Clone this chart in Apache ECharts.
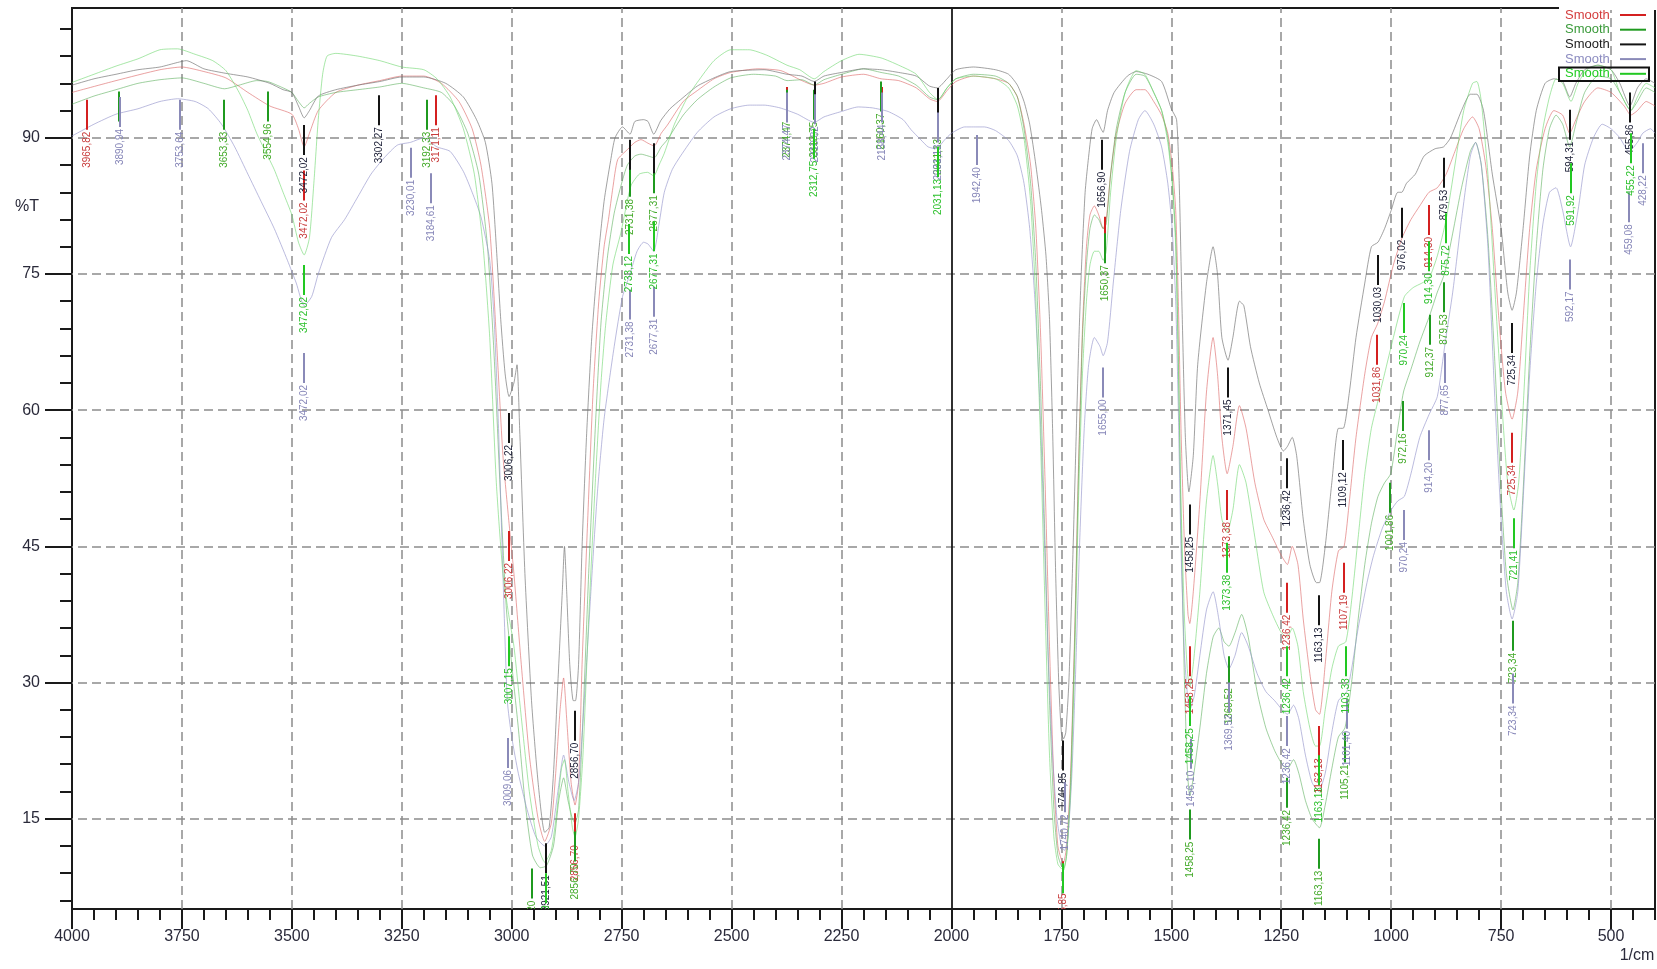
<!DOCTYPE html>
<html>
<head>
<meta charset="utf-8">
<script src="https://cdn.jsdelivr.net/npm/echarts@6/dist/echarts.min.js"></script>
<style>
html, body { margin: 0; padding: 0; background: #fff; }
#chart { width: 1657px; height: 969px; }
</style>
</head>
<body>
<div id="chart"></div>
<script>
// spectra, [wavenumber 1/cm, %T]
const redCurve = [[4000,95],[3900,96.3],[3800,97.5],[3750,97.8],[3700,97.3],[3650,96.6],[3600,95],[3550,93.5],[3500,92.6],[3485,91],[3472,89],[3460,90.5],[3440,93],[3400,95],[3350,95.8],[3300,96.3],[3250,96.8],[3200,96.8],[3160,96],[3120,94],[3090,91],[3070,87],[3050,80],[3035,68],[3020,55],[3006,47.5],[2995,42],[2980,33],[2960,22],[2940,15],[2925,12.5],[2910,14.5],[2900,20],[2890,27],[2882,30.5],[2875,26],[2865,19],[2856,16.5],[2848,19],[2840,32],[2828,47],[2815,62],[2802,72],[2790,78],[2780,81],[2770,84.5],[2759,87.6],[2737,88.7],[2720,89.5],[2706,89.8],[2690,89.4],[2676,89.1],[2660,90.5],[2646,91.4],[2610,94],[2578,95.2],[2540,96.5],[2502,97.2],[2440,97.6],[2388,97.4],[2340,96.3],[2312,95.8],[2290,96],[2250,96.7],[2200,97],[2160,96.5],[2120,96.3],[2080,95.5],[2050,94.3],[2032,94],[2010,95.2],[1990,96.2],[1950,96.8],[1900,96.5],[1870,96],[1850,94.5],[1835,91.5],[1820,87],[1808,80],[1797,68],[1787,52],[1777,34],[1767,19],[1758,12],[1750,10.5],[1745,10.2],[1738,12],[1729,20],[1720,35],[1711,54],[1702,69],[1693,78],[1685,81.5],[1675,82.5],[1665,81.5],[1655,80],[1648,81],[1638,86],[1625,90.5],[1605,93.8],[1580,95.3],[1560,95.3],[1540,94],[1522,92.5],[1508,90.5],[1498,87],[1490,82],[1484,72],[1478,58],[1470,45],[1462,37.5],[1458,36.5],[1450,40],[1435,50],[1420,62],[1405,68],[1395,64],[1385,57],[1373,53],[1360,56],[1345,60.5],[1330,58],[1310,52],[1290,48],[1270,46],[1250,44],[1236,43],[1225,45],[1212,43],[1200,37],[1185,31],[1172,27],[1163,26.5],[1150,32],[1135,40],[1120,44.5],[1107,45],[1095,50],[1080,57],[1060,64],[1045,68],[1031,69.5],[1015,72],[995,76],[975,79],[955,81],[935,82.5],[914,84],[895,84.5],[875,86],[855,88.5],[835,91],[815,92.3],[800,91],[785,87],[770,80],[755,70],[740,62],[725,59],[712,62],[700,70],[685,80],[670,86.5],[650,91],[630,93],[610,92.5],[594,90.5],[580,92],[560,94],[530,95.5],[500,95],[470,93.5],[455,92.5],[440,93],[420,94],[400,93.5]];

const greenCurve = [[4000,93.7],[3950,94.6],[3900,95.3],[3850,96],[3800,96.4],[3750,96.6],[3700,96],[3653,95.4],[3620,95.8],[3580,96.3],[3555,96.2],[3520,95.5],[3500,95],[3485,94],[3472,93.3],[3460,93.8],[3440,94.5],[3400,95],[3350,95.3],[3300,95.6],[3250,96],[3200,95.5],[3160,95],[3130,93.5],[3100,90.5],[3075,86],[3055,78],[3040,66],[3025,50],[3012,38],[3000,32],[2985,25],[2970,17],[2953,11],[2935,9.6],[2921,9.8],[2905,12],[2893,17],[2882,19.5],[2872,17],[2862,15],[2856,14.5],[2848,16],[2838,26],[2825,42],[2810,58],[2797,69.6],[2782,77],[2767,81.7],[2750,85],[2737,87],[2720,88],[2706,88.2],[2690,88],[2676,87.8],[2660,89],[2646,89.8],[2610,92.5],[2578,94.2],[2540,95.6],[2502,96.6],[2450,97],[2400,96.8],[2374,96.3],[2340,96.4],[2312,95.8],[2290,96.4],[2250,97],[2200,97.6],[2160,97.2],[2120,96.8],[2080,95.8],[2050,94.5],[2031,94.2],[2010,95.5],[1990,96.5],[1950,97],[1900,96.8],[1870,96],[1850,94.5],[1835,91],[1820,85],[1808,76],[1797,62],[1787,45],[1777,28],[1767,16],[1758,11],[1750,9.8],[1745,9.5],[1738,11],[1729,19],[1720,34],[1711,53],[1702,68],[1693,76],[1685,80],[1675,81.5],[1665,81],[1655,80],[1648,80.5],[1638,86],[1625,91],[1605,95],[1580,97],[1560,96.8],[1540,95],[1522,93],[1508,90],[1498,85.5],[1490,79],[1484,66],[1478,48],[1470,30],[1463,20],[1458,17.5],[1450,19.5],[1435,25],[1420,31],[1405,35],[1392,36],[1380,34.5],[1369,34],[1355,35.5],[1340,37.5],[1325,35],[1305,29],[1285,25],[1265,22.5],[1248,21],[1236,20.5],[1222,21.5],[1210,20],[1195,17],[1180,15],[1163,14],[1150,16.5],[1135,20.5],[1120,24],[1105,25],[1090,30],[1075,37],[1060,43],[1045,47.5],[1030,50.5],[1015,52],[1001,53],[985,58],[972,62],[955,64.5],[935,67.5],[912,70.5],[895,73],[879,75],[860,79.5],[840,84.5],[820,88.5],[808,89.5],[795,87],[780,79],[765,66],[750,51],[738,42],[723,38],[712,41],[700,51],[685,66],[670,78],[655,86.5],[640,91],[625,92.5],[610,91.5],[594,89],[580,91.5],[560,95],[530,96.8],[500,96.5],[480,95],[455,93],[440,94],[420,95.5],[400,95]];

const blackCurve = [[4000,95.8],[3950,96.5],[3900,97],[3850,97.5],[3800,97.8],[3760,98.3],[3740,98.5],[3700,97.6],[3650,97.1],[3600,96.7],[3550,96],[3520,95.3],[3500,95],[3485,93.5],[3472,92.2],[3460,93],[3440,94.6],[3400,95.3],[3350,95.8],[3300,96.2],[3250,96.7],[3200,96.7],[3150,96],[3110,94.5],[3080,92],[3060,89.5],[3045,85],[3035,78],[3025,70],[3015,64],[3006,61.5],[2995,63],[2988,65],[2982,58],[2970,42],[2955,28],[2940,19],[2925,13.5],[2915,14],[2905,20],[2895,30],[2885,40],[2880,45],[2875,40],[2868,32],[2860,28],[2855,28],[2848,32],[2840,45],[2830,57],[2818,68],[2805,76],[2790,83],[2775,87.5],[2765,90],[2748,91.2],[2731,90.4],[2720,91.8],[2700,92],[2690,91.8],[2677,90.4],[2661,91.9],[2640,93.2],[2616,94.2],[2578,95.7],[2540,96.6],[2502,97.3],[2426,97.5],[2374,97],[2340,96.8],[2312,96.2],[2290,96.8],[2250,97.2],[2200,97.6],[2160,97.5],[2120,97.2],[2080,96.8],[2050,95.7],[2032,95.5],[2010,96.5],[1990,97.5],[1950,97.8],[1900,97.5],[1870,97],[1850,95.8],[1835,94],[1822,91.5],[1808,87],[1795,82],[1785,77],[1777,70],[1770,58],[1763,42],[1756,30],[1750,24.5],[1745,23.8],[1740,24.5],[1733,30],[1725,42],[1717,56],[1710,68],[1704,76],[1696,84],[1689,87.5],[1680,91],[1670,92],[1660,91],[1655,90.6],[1645,93],[1630,95],[1600,96.8],[1580,97.3],[1553,97],[1522,96.2],[1500,93.2],[1488,92],[1482,85],[1475,70],[1468,57],[1460,51],[1450,55],[1440,65],[1420,74],[1405,78],[1395,75],[1385,68],[1371,65.5],[1360,68],[1345,72],[1335,71.5],[1320,67],[1300,63],[1280,60],[1260,57],[1245,55.5],[1236,56],[1225,57],[1215,55],[1200,48],[1185,43],[1170,41],[1163,41],[1150,45],[1135,52],[1120,58],[1109,58],[1095,62],[1080,68],[1060,74],[1045,78],[1030,78.5],[1015,80],[1000,82],[985,84],[976,84],[965,85],[945,86],[925,88],[900,88.8],[881,89],[865,90],[840,93],[820,94.8],[805,94.8],[790,93],[770,86],[750,80],[735,73],[725,71],[715,73],[700,80],[685,88],[670,93],[650,96],[630,96.5],[610,96.2],[594,94.5],[580,96],[560,97.5],[530,98],[500,97.5],[480,96],[457,93.5],[440,95.5],[420,96.5],[400,96]];

const lavenderCurve = [[4000,90.2],[3950,91.5],[3900,92.6],[3850,93.2],[3800,94],[3760,94.3],[3720,94],[3690,93.2],[3660,91.5],[3630,89],[3600,86],[3570,83],[3540,80],[3510,76.5],[3490,74],[3472,71.5],[3455,72.5],[3440,75],[3410,79],[3380,81],[3350,83.5],[3320,86],[3290,87.8],[3260,89.2],[3230,89.5],[3200,90],[3170,89],[3140,88.5],[3110,86.3],[3090,84],[3070,81.3],[3050,76.5],[3040,70],[3030,58],[3020,42],[3010,28],[3000,24],[2985,20],[2965,16],[2945,13],[2925,12],[2910,13],[2895,18],[2882,22],[2870,19],[2858,17],[2848,19],[2835,28],[2820,40],[2805,51],[2790,59],[2767,67],[2748,72.5],[2731,75],[2715,77.5],[2700,78.5],[2690,78.3],[2677,77.5],[2665,80.5],[2653,84],[2635,86.5],[2616,88],[2578,90.6],[2540,92.3],[2502,93.2],[2460,93.6],[2426,93.6],[2390,93.3],[2350,92.6],[2312,91.7],[2290,92.3],[2250,92.9],[2212,93.4],[2180,93.3],[2144,92.9],[2110,92],[2092,90.9],[2070,89.8],[2053,89],[2035,88.8],[2015,89.8],[2000,90.5],[1970,91.2],[1950,91.2],[1925,91.2],[1900,90.8],[1870,89.7],[1850,88],[1835,85],[1822,80],[1810,72],[1800,62],[1790,48],[1780,33],[1770,22],[1760,15],[1750,12],[1743,11.5],[1735,13],[1726,20],[1717,32],[1708,46],[1698,58],[1688,65],[1675,68],[1662,67],[1655,66],[1645,67.5],[1632,74],[1615,82],[1595,88.5],[1575,92],[1560,93],[1540,91.5],[1522,89],[1508,85],[1498,80],[1490,72],[1484,60],[1478,45],[1470,33],[1463,28.5],[1458,27],[1448,28.5],[1435,33],[1420,38],[1405,40],[1392,37],[1380,33],[1369,31.5],[1355,33],[1340,35.5],[1325,34],[1305,31],[1285,29],[1265,28],[1248,27],[1236,26.5],[1222,27.5],[1210,26],[1195,22],[1180,19],[1165,18],[1150,20],[1135,24.5],[1120,28],[1101,29],[1090,31.5],[1075,36],[1055,41],[1040,44],[1020,47],[1000,49],[985,50],[970,50.5],[955,53],[935,57],[914,59.5],[895,61.5],[877,67.5],[860,73],[840,81],[820,88],[808,89.5],[795,87],[780,78],[765,62],[750,48],[738,40],[725,37],[712,40],[700,50],[685,64],[670,74],[655,80.5],[640,84],[625,84.5],[610,82],[592,78],[575,82],[560,87],[540,90],[520,91.5],[500,91],[480,90],[459,88.5],[440,89.5],[428,90.5],[410,91],[400,90.5]];

const brightCurve = [[4000,96.1],[3950,97],[3900,97.9],[3850,98.7],[3800,99.7],[3760,99.8],[3720,99.2],[3680,98.5],[3650,97.4],[3620,95],[3600,93],[3580,90.5],[3560,88.5],[3540,86.5],[3520,84],[3500,81.5],[3485,78.5],[3472,77.1],[3460,79],[3450,85],[3440,92],[3430,97],[3420,99],[3400,99.3],[3350,99],[3300,98.5],[3250,97.8],[3200,97.5],[3170,96.5],[3140,94.5],[3110,91],[3085,86],[3065,78],[3050,68],[3035,52],[3020,42],[3007,37.5],[2995,34],[2980,27],[2960,18],[2940,12],[2925,10.2],[2910,11.5],[2897,16],[2887,20.5],[2880,21.5],[2872,18],[2862,14],[2856,13],[2848,15],[2838,22],[2825,37],[2810,52],[2797,63],[2786,69.6],[2770,76],[2752,79.5],[2729,84.7],[2710,86],[2691,86.2],[2677,85.8],[2665,87],[2653,88.3],[2630,91.5],[2600,94.5],[2578,96.1],[2540,98.5],[2502,99.7],[2460,99.7],[2420,99.1],[2374,98],[2345,97.5],[2312,96.5],[2290,97.3],[2250,98.5],[2210,99.2],[2160,98.8],[2120,98],[2080,97],[2050,95],[2030,94.2],[2010,95.5],[1990,96.5],[1950,96.8],[1900,96.5],[1870,95.5],[1850,93.5],[1835,90],[1820,83],[1808,72],[1797,56],[1787,38],[1777,22],[1767,13],[1758,10],[1750,9.5],[1745,9.3],[1738,11],[1729,18],[1720,32],[1711,50],[1702,64],[1693,72],[1685,76],[1675,77.5],[1665,77.5],[1655,76.5],[1648,77.5],[1638,84],[1625,90],[1605,95],[1580,97.4],[1560,97],[1540,95],[1522,93],[1508,89.5],[1498,85],[1490,78],[1484,65],[1478,50],[1470,37],[1463,31],[1458,29.5],[1450,32],[1435,40],[1420,50],[1405,55],[1395,52],[1385,48],[1373,46.5],[1360,49],[1345,54],[1330,52],[1310,46],[1290,40],[1270,37.5],[1250,35.5],[1236,35],[1225,36],[1212,34],[1200,29],[1185,25],[1172,23],[1163,23],[1150,27],[1135,31.5],[1120,34],[1103,34.5],[1090,39],[1075,46],[1060,53],[1045,58],[1030,61],[1015,64],[995,68],[970,72.5],[950,73.5],[930,74],[914,74.5],[895,77],[875,81],[855,87],[835,93],[815,96],[805,96.2],[795,94],[780,86],[765,74],[750,62],[735,52],[721,49],[710,52],[698,62],[685,75],[670,85],[655,91],[640,94.5],[625,96.5],[610,96],[591,94],[575,96],[555,97.5],[530,98],[500,97.5],[480,95],[455,93],[440,94.5],[420,96],[400,95.5]];

// peak picks, [wavenumber, top of tick in %T, label]
const redPeaks = [[3965.82,94.2,'3965,82'],[3472.02,86.4,'3472,02'],[3171.11,94.7,'3171,11'],[3006.22,46.7,'3006,22'],[2856.70,15.6,'2856,70'],[2374.47,95.6,''],[2158.44,95.6,''],[1650.37,81.3,''],[1745.85,10.3,'1745,85'],[1458.25,34.0,'1458,25'],[1373.38,51.2,'1373,38'],[1236.42,41.0,'1236,42'],[1163.13,25.2,'1163,13'],[1107.19,43.2,'1107,19'],[1031.86,68.3,'1031,86'],[914.30,82.6,'914,30'],[725.34,57.5,'725,34']];

const greenPeaks = [[3892.58,95.1,''],[3653.33,94.2,'3653,33'],[3554.96,95.1,'3554,96'],[3192.33,94.2,'3192,33'],[2953.20,9.5,'2953,20'],[2856.70,13.6,'2856,70'],[2731.38,86.8,'2731,38'],[2677.31,87.2,'2677,31'],[2374.47,95.3,'2374,47'],[2312.75,95.3,'2312,75'],[2160.37,96.2,'2160,37'],[2031.13,93.4,'2031,13'],[1650.37,79.5,'1650,37'],[1458.25,16.0,'1458,25'],[1369.52,32.9,'1369,52'],[1236.42,19.5,'1236,42'],[1163.13,12.8,'1163,13'],[1105.21,24.5,'1105,21'],[1001.86,52.0,'1001,86'],[972.16,61.0,'972,16'],[912.37,70.5,'912,37'],[879.53,74.1,'879,53'],[723.34,36.8,'723,34']];

const blackPeaks = [[3472.02,91.4,'3472,02'],[3302.27,94.7,'3302,27'],[3006.22,59.7,'3006,22'],[2921.51,12.3,'2921,51'],[2856.70,26.9,'2856,70'],[2731.38,89.8,''],[2677.31,89.4,''],[2310.82,96.2,''],[2031.13,95.5,''],[1746.85,23.6,'1746,85'],[1656.90,89.8,'1656,90'],[1458.25,49.6,'1458,25'],[1371.45,64.7,'1371,45'],[1236.42,54.7,'1236,42'],[1163.13,39.6,'1163,13'],[1109.12,56.7,'1109,12'],[1030.03,77.1,'1030,03'],[976.02,82.3,'976,02'],[879.53,87.8,'879,53'],[725.34,69.6,'725,34'],[594.31,93.1,'594,31'],[455.86,95.0,'455,86']];

const lavenderPeaks = [[3890.94,94.5,'3890,94'],[3753.64,94.2,'3753,64'],[3472.02,66.3,'3472,02'],[3230.01,88.9,'3230,01'],[3184.61,86.1,'3184,61'],[3009.06,23.9,'3009,06'],[2731.38,73.3,'2731,38'],[2677.31,73.6,'2677,31'],[2374.47,95.0,'2374,47'],[2310.82,94.8,'2310,82'],[2158.44,95.0,'2158,44'],[2031.13,92.8,'2031,13'],[1942.40,90.3,'1942,40'],[1740.72,19.0,'1740,72'],[1655.00,64.7,'1655,00'],[1456.10,23.8,'1456,10'],[1369.52,30.0,'1369,52'],[1236.42,26.3,'1236,42'],[1101.40,28.2,'1101,40'],[970.24,49.0,'970,24'],[914.20,57.8,'914,20'],[877.65,66.3,'877,65'],[723.34,31.0,'723,34'],[592.17,76.6,'592,17'],[459.08,84.0,'459,08'],[428.22,89.4,'428,22']];

const brightPeaks = [[3472.02,76.0,'3472,02'],[3007.15,35.1,'3007,15'],[2921.59,9.0,'2921,59'],[2733.12,80.5,'2733,12'],[2677.31,80.8,'2677,31'],[2312.75,91.0,'2312,75'],[2031.13,89.0,'2031,13'],[1745.85,10.1,''],[1458.25,28.5,'1458,25'],[1373.38,45.4,'1373,38'],[1236.42,34.0,'1236,42'],[1163.13,22.0,'1163,13'],[1103.33,34.0,'1103,33'],[970.24,71.8,'970,24'],[914.30,78.6,'914,30'],[875.72,81.7,'875,72'],[721.41,48.1,'721,41'],[591.92,87.2,'591,92'],[455.22,90.5,'455,22']];

const legendNames = ['Smooth', 'Smooth', 'Smooth', 'Smooth', 'Smooth'];
const xLabels = [4000, 3750, 3500, 3250, 3000, 2750, 2500, 2250, 2000, 1750, 1500, 1250, 1000, 750, 500];
const yLabels = [15, 30, 45, 60, 75, 90];
const yMinorTicks = [6, 9, 12, 15, 18, 21, 24, 27, 30, 33, 36, 39, 42, 45, 48, 51, 54, 57, 60, 63, 66, 69, 72, 75, 78, 81, 84, 87, 90, 93, 96, 99, 102];

const FONT = '"Liberation Sans", Arial, sans-serif';
const X_MIN = 400, X_MAX = 4000, Y_MIN = 5.05, Y_MAX = 104.3;

// curve colour, tick colour, label colour
const styles = [
	{ curve: 'rgba(220,100,100,0.6)', tick: '#d42020', text: '#c83c3c', legend: '#d43c3c' },
	{ curve: 'rgba(80,170,80,0.55)', tick: '#1f9a1f', text: '#44aa2a', legend: '#3a9a3a' },
	{ curve: 'rgba(110,110,110,0.65)', tick: '#141414', text: '#20233a', legend: '#202020' },
	{ curve: 'rgba(150,150,205,0.65)', tick: '#8a8ab8', text: '#8686b8', legend: '#8c8cc0' },
	{ curve: 'rgba(110,215,110,0.6)', tick: '#22c822', text: '#2cc02c', legend: '#22cc22' }
];

const curves = [redCurve, greenCurve, blackCurve, lavenderCurve, brightCurve];
const peaks = [redPeaks, greenPeaks, blackPeaks, lavenderPeaks, brightPeaks];

const peakSeries = (list, st) => ({
	type: 'custom',
	silent: true,
	clip: true,
	z: 6,
	data: list.map((p) => [p[0], p[1]]),
	renderItem: (params, api) => {
		const top = api.coord([api.value(0), api.value(1)]);
		const x = Math.round(top[0]);
		const y2 = top[1] + 30;
		return {
			type: 'group',
			children: [
				{ type: 'line', shape: { x1: x, y1: top[1], x2: x, y2 }, style: { stroke: st.tick, lineWidth: 2 } },
				{
					type: 'text',
					x,
					y: y2 + 2,
					rotation: Math.PI / 2,
					style: { text: list[params.dataIndex][2], fill: st.text, font: `10px ${FONT}`, align: 'right', verticalAlign: 'middle' }
				}
			]
		};
	}
});

const gridMarks = [
	...yLabels.map((v) => ({ yAxis: v })),
	...xLabels.filter((v) => v !== 4000 && v !== 2000).map((v) => ({ xAxis: v })),
	{ xAxis: 2000, lineStyle: { color: '#1a1a1a', type: 'solid', width: 1.8 } }
];

const series = [];
curves.forEach((c, i) => {
	series.push({
		type: 'line',
		name: `Smooth ${i + 1}`,
		data: c,
		showSymbol: false,
		smooth: 0.2,
		silent: true,
		z: 3,
		lineStyle: { color: styles[i].curve, width: 1 },
		markLine: i === 0 ? {
			silent: true,
			symbol: ['none', 'none'],
			label: { show: false },
			z: 1,
			lineStyle: { color: '#8c8c8c', type: [9, 5], width: 1.5 },
			data: gridMarks
		} : undefined
	});
});
peaks.forEach((p, i) => series.push(peakSeries(p, styles[i])));

const legendGraphic = [
	{ type: 'rect', shape: { x: 1559, y: 0, width: 98, height: 10 }, style: { fill: '#fff' }, z: 100 }
];
legendNames.forEach((name, i) => {
	const y = 15 + i * 14.7;
	legendGraphic.push({ type: 'text', x: 1565, y, z: 101, style: { text: name, fill: styles[i].legend, font: `13px ${FONT}`, verticalAlign: 'middle' } });
	legendGraphic.push({ type: 'line', shape: { x1: 1620, y1: y, x2: 1646, y2: y }, z: 101, style: { stroke: styles[i].tick, lineWidth: 2 } });
});
legendGraphic.push({ type: 'rect', shape: { x: 1559, y: 67.5, width: 90, height: 13.5 }, z: 102, style: { fill: 'none', stroke: '#111', lineWidth: 2 } });
legendGraphic.push({ type: 'text', x: 27, y: 207, z: 101, style: { text: '%T', fill: '#2a2a3a', font: `16px ${FONT}`, align: 'center', verticalAlign: 'middle' } });
legendGraphic.push({ type: 'text', x: 1637, y: 956, z: 101, style: { text: '1/cm', fill: '#2a2a3a', font: `16px ${FONT}`, align: 'center', verticalAlign: 'middle' } });

const axisLineStyle = { color: '#1a1a1a', width: 2 };
const labelStyle = { fontSize: 16, color: '#2a2a3a', fontFamily: FONT, formatter: (v) => String(v) };

const chart = echarts.init(document.getElementById('chart'));
chart.setOption({
	animation: false,
	backgroundColor: '#fff',
	grid: { left: 72, top: 8, right: 2, bottom: 60, show: true, borderColor: '#1a1a1a', borderWidth: 2 },
	xAxis: [
		{
			type: 'value', min: X_MIN, max: X_MAX, inverse: true, position: 'bottom',
			axisLine: { show: true, onZero: false, lineStyle: axisLineStyle },
			axisTick: { show: true, customValues: xLabels, length: 20, lineStyle: axisLineStyle },
			axisLabel: { customValues: xLabels, margin: 20, ...labelStyle },
			splitLine: { show: false }
		},
		{
			type: 'value', min: X_MIN, max: X_MAX, inverse: true, position: 'bottom', interval: 50,
			axisLine: { show: false, onZero: false },
			axisTick: { show: true, length: 11, lineStyle: axisLineStyle },
			axisLabel: { show: false },
			splitLine: { show: false }
		}
	],
	yAxis: [
		{
			type: 'value', min: Y_MIN, max: Y_MAX, position: 'left',
			axisLine: { show: true, onZero: false, lineStyle: axisLineStyle },
			axisTick: { show: true, customValues: yLabels, length: 27, lineStyle: axisLineStyle },
			axisLabel: { customValues: yLabels, margin: 32, ...labelStyle },
			splitLine: { show: false }
		},
		{
			type: 'value', min: Y_MIN, max: Y_MAX, position: 'left', offset: 0,
			axisLine: { show: false, onZero: false },
			axisTick: { show: true, customValues: yMinorTicks, length: 12, lineStyle: axisLineStyle },
			axisLabel: { show: false },
			splitLine: { show: false }
		}
	],
	graphic: legendGraphic,
	series
});
</script>
</body>
</html>
